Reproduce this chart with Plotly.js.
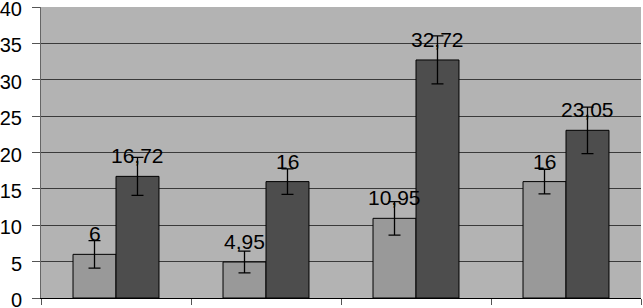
<!DOCTYPE html>
<html><head><meta charset="utf-8">
<script src="https://cdn.plot.ly/plotly-3.0.1.min.js"></script>
<style>html,body{margin:0;padding:0;background:#fff}#c{width:643px;height:308px}</style>
</head><body><div id="c"></div>
<script>
const categories = ["Group A", "Group B", "Group C", "Group D"];
const seriesA = [6, 4.95, 10.95, 16];
const seriesB = [16.72, 16, 32.72, 23.05];
const errorsA = [1.9, 1.5, 2.3, 1.7];
const errorsB = [2.6, 1.75, 3.3, 3.2];
const yTicks = [0, 5, 10, 15, 20, 25, 30, 35, 40];

const fmt = v => String(v).replace('.', ',');
const font = {family: 'Liberation Sans, Arial, sans-serif', size: 21, color: '#000'};
const tickFont = {family: 'Liberation Sans, Arial, sans-serif', size: 20, color: '#000'};

const mk = (vals, errs, color) => ({
  type: 'bar', x: categories, y: vals,
  marker: {color: color, line: {color: '#000', width: 1}},
  error_y: {type: 'data', array: errs, visible: true, color: '#000', thickness: 1.3, width: 6},
  hoverinfo: 'none'
});

const annotations = [];
categories.forEach((c, i) => {
  annotations.push({x: c, y: seriesA[i], text: fmt(seriesA[i]), xref: 'x', yref: 'y',
    showarrow: false, yanchor: 'bottom', xanchor: 'center', xshift: -21.5, yshift: 7, font: font});
  annotations.push({x: c, y: seriesB[i], text: fmt(seriesB[i]), xref: 'x', yref: 'y',
    showarrow: false, yanchor: 'bottom', xanchor: 'center', xshift: 21.5, yshift: 7, font: font});
});

const layout = {
  width: 643, height: 308,
  margin: {l: 41, r: 2, t: 7, b: 10},
  paper_bgcolor: '#ffffff', plot_bgcolor: '#b3b3b3',
  showlegend: false,
  barmode: 'group', bargap: 0.427, bargroupgap: 0,
  font: font,
  xaxis: {type: 'category', showticklabels: false, tickson: 'boundaries', ticks: 'outside',
    ticklen: 6, tickcolor: '#555', tickwidth: 1, showline: true, linecolor: '#000', linewidth: 1,
    showgrid: false, mirror: false, fixedrange: true, automargin: false},
  yaxis: {range: [0, 40], tickvals: yTicks, ticktext: yTicks.map(String), ticks: 'outside',
    ticklen: 8, tickcolor: '#555', showline: true, linecolor: '#666', linewidth: 1,
    showgrid: true, gridcolor: '#3a3a3a', gridwidth: 1, zeroline: false,
    ticklabeloverflow: 'allow', ticklabelstandoff: 6, ticklabelshift: 2,
    tickfont: tickFont, fixedrange: true, automargin: false},
  annotations: annotations
};

Plotly.newPlot('c', [mk(seriesA, errorsA, '#999999'), mk(seriesB, errorsB, '#4d4d4d')], layout, {displayModeBar: false, staticPlot: true});
</script></body></html>
